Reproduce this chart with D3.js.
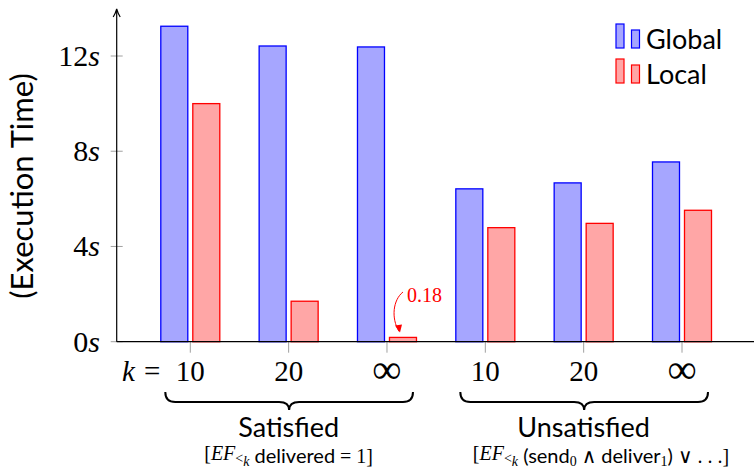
<!DOCTYPE html>
<html>
<head>
<meta charset="utf-8">
<script src="https://cdn.jsdelivr.net/npm/d3@7/dist/d3.min.js"></script>
<style>
  html, body { margin: 0; padding: 0; background: #fff; }
  svg { display: block; }
  .serif { font-family: "Liberation Serif", "DejaVu Serif", serif; }
  .sans { font-family: "Lato", "DejaVu Sans", sans-serif; }
</style>
</head>
<body>
<svg id="chart" width="754" height="469"></svg>
<script>
// Execution time per run, grouped by whether the property holds
const categories = ["10", "20", "∞", "10", "20", "∞"];
const globalTimes = [13.25, 12.42, 12.38, 6.42, 6.67, 7.55];
const localTimes = [10.0, 1.70, 0.18, 4.79, 4.97, 5.52];
const yTicks = [0, 4, 8, 12];
const groupNames = ["Satisfied", "Unsatisfied"];
const groupMembers = [[0, 1, 2], [3, 4, 5]];
const seriesNames = ["Global", "Local"];

const svg = d3.select("#chart");
const blue = "#0000ff", blueFill = "#a6a6ff";
const red = "#ff0000", redFill = "#ffa6a6";

const x = d3.scalePoint().domain(d3.range(categories.length)).range([190.3, 682]);
const y = d3.scaleLinear().domain([0, 12]).range([341.7, 56]);
const axisX = 116.7;
const barW = 27, barOff = 16;

// y ticks and labels
const yAxis = svg.append("g");
yAxis.selectAll("line").data(yTicks).join("line")
  .attr("x1", axisX - 6).attr("x2", axisX + 6)
  .attr("y1", d => y(d)).attr("y2", d => y(d))
  .attr("stroke", "#a0a0a0").attr("stroke-width", 1);
const yl = yAxis.selectAll("text").data(yTicks).join("text")
  .attr("class", "serif")
  .attr("x", 100).attr("y", d => y(d) + 10)
  .attr("text-anchor", "end").attr("font-size", 30);
yl.append("tspan").text(d => d);
yl.append("tspan").attr("font-style", "italic").text("s");

// bars
const bars = svg.append("g");
bars.selectAll("rect.g").data(globalTimes).join("rect")
  .attr("class", "g")
  .attr("x", (d, i) => x(i) - barOff - barW / 2)
  .attr("y", d => y(d)).attr("width", barW)
  .attr("height", d => y(0) - y(d))
  .attr("fill", blueFill).attr("stroke", blue).attr("stroke-width", 1.3);
bars.selectAll("rect.l").data(localTimes).join("rect")
  .attr("class", "l")
  .attr("x", (d, i) => x(i) + barOff - barW / 2)
  .attr("y", d => y(d)).attr("width", barW)
  .attr("height", d => y(0) - y(d))
  .attr("fill", redFill).attr("stroke", red).attr("stroke-width", 1.3);

// x ticks
svg.append("g").selectAll("line").data(categories).join("line")
  .attr("x1", (d, i) => x(i)).attr("x2", (d, i) => x(i))
  .attr("y1", y(0)).attr("y2", y(0) + 11)
  .attr("stroke", "#a0a0a0").attr("stroke-width", 1);

// axes lines
svg.append("line").attr("x1", axisX).attr("x2", 754)
  .attr("y1", y(0)).attr("y2", y(0)).attr("stroke", "#000").attr("stroke-width", 1.2);
svg.append("line").attr("x1", axisX).attr("x2", axisX)
  .attr("y1", y(0)).attr("y2", 11).attr("stroke", "#000").attr("stroke-width", 1.2);
svg.append("path")
  .attr("d", `M${axisX - 3.5},${17} Q${axisX - 1},${13} ${axisX},${9} Q${axisX + 1},${13} ${axisX + 3.5},${17}`)
  .attr("fill", "none").attr("stroke", "#000").attr("stroke-width", 1.2);

// x tick labels
svg.append("g").selectAll("text").data(categories).join("text")
  .attr("class", "serif")
  .attr("x", (d, i) => x(i)).attr("y", d => d === "∞" ? 383 : 381)
  .attr("text-anchor", "middle").attr("font-size", d => d === "∞" ? 41 : 29)
  .text(d => d);
svg.append("text").attr("class", "serif").attr("font-style", "italic")
  .attr("x", 122).attr("y", 381).attr("font-size", 29).text("k");
svg.append("text").attr("class", "serif")
  .attr("x", 144).attr("y", 381).attr("font-size", 29).text("=");

// y axis title
svg.append("text").attr("class", "sans")
  .attr("transform", "translate(33,186) rotate(-90)")
  .attr("text-anchor", "middle").attr("font-size", 31)
  .text("(Execution Time)");

// braces under the groups
function brace(x0, x1, yt) {
  const ym = yt + 10, yb = yt + 18, h = 10, xm = (x0 + x1) / 2;
  return `M${x0},${yt} Q${x0},${ym} ${x0 + h},${ym} L${xm - h},${ym} Q${xm},${ym} ${xm},${yb}` +
         ` Q${xm},${ym} ${xm + h},${ym} L${x1 - h},${ym} Q${x1},${ym} ${x1},${yt}`;
}
const braceG = svg.append("g");
groupMembers.forEach((m, gi) => {
  const x0 = x(m[0]) - 25, x1 = x(m[m.length - 1]) + 26;
  braceG.append("path").attr("d", brace(x0, x1, 392))
    .attr("fill", "none").attr("stroke", "#000").attr("stroke-width", 2);
  braceG.append("text").attr("class", "sans")
    .attr("x", x(m[1])).attr("y", 437).attr("text-anchor", "middle")
    .attr("font-size", 27).text(groupNames[gi]);
});

// formula lines under group names
function formula(xc, parts) {
  const t = svg.append("text").attr("x", xc).attr("y", 460)
    .attr("text-anchor", "middle").attr("font-size", 20);
  parts.forEach(p => {
    const s = t.append("tspan").text(p.t)
      .attr("class", p.sans ? "sans" : "serif");
    if (p.it) s.attr("font-style", "italic");
    if (p.sub) s.attr("font-size", 14).attr("dy", 3);
    if (p.up) s.attr("dy", -3);
  });
}
formula(x(1), [
  { t: "[" }, { t: "EF", it: true }, { t: "<", sub: true }, { t: "k", sub: true, it: true },
  { t: " delivered", sans: true, up: true }, { t: " = 1]" }
]);
formula(601, [
  { t: "[" }, { t: "EF", it: true }, { t: "<", sub: true }, { t: "k", sub: true, it: true },
  { t: " (send", sans: true, up: true }, { t: "0", sub: true }, { t: " ∧ ", up: true },
  { t: "deliver", sans: true }, { t: "1", sub: true }, { t: ")", sans: true, up: true },
  { t: " ∨ . . .]" }
]);

// value callout for the smallest bar
const callX = x(2) + barOff;
svg.append("text").attr("class", "serif")
  .attr("x", callX + 4).attr("y", 302).attr("font-size", 20)
  .attr("fill", red).text(localTimes[2].toFixed(2));
const tipY = y(localTimes[2]) - 6;
svg.append("path")
  .attr("d", `M${callX},${292} C${callX - 10},${300} ${callX - 12},${318} ${callX - 4},${tipY}`)
  .attr("fill", "none").attr("stroke", red).attr("stroke-width", 1);
svg.append("path")
  .attr("d", `M${callX - 8},${tipY - 6} L${callX - 3},${tipY + 1} L${callX - 1},${tipY - 7} Z`)
  .attr("fill", red);

// legend
const legend = svg.append("g");
[[blue, blueFill], [red, redFill]].forEach((c, i) => {
  const ly = 48 + i * 35;
  legend.append("rect").attr("x", 616).attr("y", ly - 24).attr("width", 8).attr("height", 24)
    .attr("fill", c[1]).attr("stroke", c[0]).attr("stroke-width", 1.2);
  legend.append("rect").attr("x", 631.5).attr("y", ly - 18).attr("width", 8).attr("height", 18)
    .attr("fill", c[1]).attr("stroke", c[0]).attr("stroke-width", 1.2);
  legend.append("text").attr("class", "sans").attr("x", 646).attr("y", ly + 1)
    .attr("font-size", 27).text(seriesNames[i]);
});
</script>
</body>
</html>
